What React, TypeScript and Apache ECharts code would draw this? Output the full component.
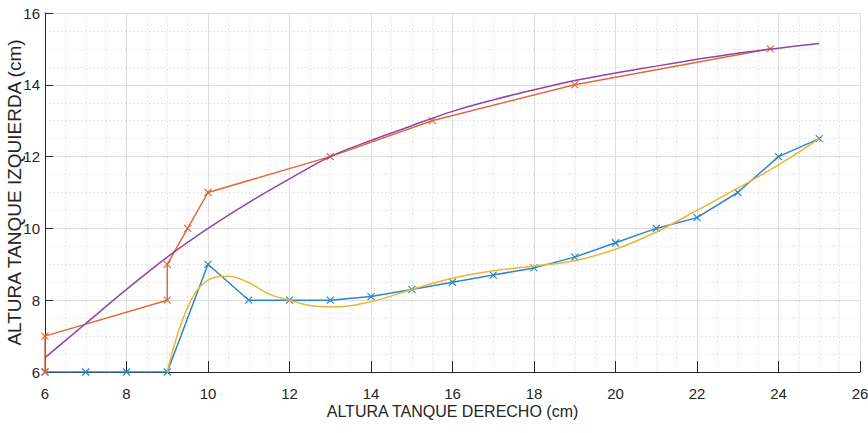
import React, { useEffect, useRef } from "react";
import * as echarts from "echarts";

const blueX = [6, 7, 8, 9, 10, 11, 12, 13, 14, 15, 16, 17, 18, 19, 20, 21, 22, 23, 24, 25];
const blueY = [6, 6, 6, 6, 9, 8, 8, 8, 8.1, 8.3, 8.5, 8.7, 8.9, 9.2, 9.6, 10, 10.3, 11, 12, 12.5];

const orangeX = [6, 6, 9, 9, 9.5, 10, 13, 15.5, 19, 23.8];
const orangeY = [6, 7, 8, 9, 10, 11, 12, 13, 14, 15];

const yellowX = [9, 9.5, 10, 10.5, 11, 11.5, 12, 12.5, 13, 14, 15, 16, 17, 18, 19, 20, 21, 22, 23, 24, 25];
const yellowY = [6.0, 7.8, 8.56, 8.67, 8.49, 8.17, 8.0, 7.85, 7.81, 7.96, 8.3, 8.61, 8.82, 8.95, 9.1, 9.42, 9.9, 10.5, 11.12, 11.77, 12.5];

const purpleX = [6, 7, 8, 9, 10, 11, 12, 13, 14, 15, 16, 17, 18, 19, 20, 21, 22, 23, 24, 25];
const purpleY = [6.4, 7.35, 8.3, 9.2, 10.0, 10.72, 11.38, 12.0, 12.45, 12.86, 13.26, 13.58, 13.86, 14.12, 14.33, 14.52, 14.71, 14.88, 15.02, 15.15];

const xTicks = { min: 6, max: 26, interval: 2 };
const yTicks = { min: 6, max: 16, interval: 2 };

const xName = "ALTURA TANQUE DERECHO (cm)";
const yName = "ALTURA TANQUE IZQUIERDA (cm)";

const zip = (xs: number[], ys: number[]) => xs.map((x, i) => [x, ys[i]]);

const FONT = "'Liberation Sans', Arial, sans-serif";
const CROSS = "path://M0,0L10,10M10,0L0,10";

export default function App() {
  const ref = useRef<HTMLDivElement>(null);
  useEffect(() => {
    if (!ref.current) return;
    const chart = echarts.init(ref.current, undefined, { renderer: "svg" });
    const axisCommon = {
      type: "value" as const,
      axisLine: { show: true, onZero: false, lineStyle: { color: "#262626", width: 1 } },
      axisLabel: { color: "#262626", fontSize: 15, fontFamily: FONT },
      splitLine: { show: true, lineStyle: { color: "#dedede", width: 1 } },
      minorTick: { show: false, splitNumber: 4 },
      minorSplitLine: { show: true, lineStyle: { color: "#cfcfcf", type: [1, 3] as any, width: 1 } },
      nameLocation: "middle" as const,
      nameMoveOverlap: false,
    };
    const markerSeries = (xs: number[], ys: number[], color: string) => ({
      type: "line",
      data: zip(xs, ys),
      symbol: CROSS,
      symbolSize: 7,
      showSymbol: true,
      lineStyle: { color, width: 1.5 },
      itemStyle: { color: "none", borderColor: color, borderWidth: 1.2 },
      z: 3,
    });
    chart.setOption({
      animation: false,
      grid: { left: 45, right: 8, top: 13, bottom: 61, containLabel: false, outerBoundsMode: "none" },
      xAxis: {
        ...axisCommon,
        ...xTicks,
        name: xName,
        nameGap: 31,
        nameTextStyle: { color: "#262626", fontSize: 16, fontFamily: FONT },
        axisTick: { show: true, inside: true, length: 11, lineStyle: { color: "#262626" } },
        axisLabel: { ...axisCommon.axisLabel, margin: 14 },
        minorTick: { show: false, splitNumber: 4 },
      },
      yAxis: {
        ...axisCommon,
        ...yTicks,
        name: yName,
        nameGap: 21,
        nameTextStyle: { color: "#262626", fontSize: 19, fontFamily: FONT },
        axisTick: { show: true, inside: true, length: 8, lineStyle: { color: "#262626" } },
        axisLabel: { ...axisCommon.axisLabel, margin: 5 },
      },
      series: [
        markerSeries(blueX, blueY, "#2a86cc"),
        markerSeries(orangeX, orangeY, "#e0693a"),
        {
          type: "line",
          data: zip(yellowX, yellowY),
          smooth: 0.4,
          showSymbol: false,
          symbol: "none",
          lineStyle: { color: "#efb431", width: 1.5 },
          z: 4,
        },
        {
          type: "line",
          data: zip(purpleX, purpleY),
          smooth: 0.35,
          showSymbol: false,
          symbol: "none",
          lineStyle: { color: "#8e44a8", width: 1.5 },
          z: 4,
        },
      ],
    });
    return () => chart.dispose();
  }, []);
  return (
    <div
      ref={ref}
      style={{ position: "fixed", left: 0, top: 0, width: 868, height: 433, background: "#fff" }}
    />
  );
}
